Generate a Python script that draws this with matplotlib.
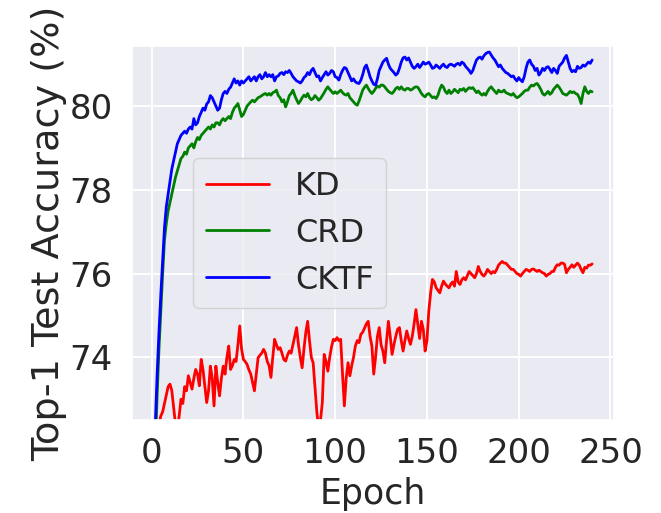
import matplotlib
matplotlib.use("Agg")
import matplotlib.pyplot as plt
import seaborn as sns
import numpy as np

epochs = list(range(1, 241))

kd = [70.5, 71.2, 71.8, 72.4, 72.6, 72.7, 72.9, 73.1, 73.3, 73.36,
      73.2, 72.8, 72.4, 72.3, 72.6, 73.0, 72.9, 73.3, 73.2, 73.56,
      73.4, 73.24, 73.5, 73.71, 73.6, 73.32, 73.95, 73.7, 73.3, 72.92,
      73.2, 73.79, 73.5, 72.84, 73.79, 73.4, 73.08, 73.5, 73.79, 73.6,
      74.0, 74.27, 73.71, 73.8, 73.95, 73.9, 74.3, 74.75, 74.2, 73.95,
      73.9, 73.83, 73.7, 73.6, 73.4, 73.2, 73.6, 73.99, 74.05, 74.1,
      74.19, 74.1, 73.9, 73.8, 73.52, 74.0, 74.43, 74.3, 74.19, 74.23,
      74.1, 73.95, 73.91, 74.05, 74.15, 74.1, 74.3, 74.5, 74.71, 74.3,
      74.0, 73.75, 74.2, 74.6, 74.86, 74.4, 74.0, 73.87, 73.3, 72.7,
      72.3, 72.5, 72.92, 74.07, 73.9, 73.67, 74.0, 74.25, 74.43, 74.4,
      74.47, 74.4, 74.43, 73.6, 72.84, 73.5, 73.87, 73.56, 73.8, 74.0,
      74.27, 74.4, 74.35, 74.55, 74.6, 74.7, 74.8, 74.86, 74.5, 74.27,
      73.6, 74.0, 74.5, 74.71, 74.3, 74.15, 73.87, 74.4, 74.86, 74.5,
      74.07, 74.3, 74.5, 74.67, 74.71, 74.4, 74.15, 74.4, 74.63, 74.45,
      74.31, 74.5, 74.8, 75.14, 74.8, 74.45, 74.86, 74.67, 74.15, 74.4,
      75.1, 75.54, 75.86, 75.8, 75.66, 75.6, 75.54, 75.7, 75.82, 75.75,
      75.7, 75.66, 75.75, 75.8, 75.7, 76.05, 75.8, 75.74, 75.85, 75.9,
      75.85, 75.95, 76.05, 76.0, 75.95, 75.9, 76.0, 76.17, 76.05, 75.98,
      75.94, 76.0, 76.1, 76.05, 76.0, 76.05, 76.02, 76.1, 76.2, 76.25,
      76.29, 76.25, 76.25, 76.2, 76.15, 76.1, 76.1, 76.05, 76.0, 75.98,
      75.94, 76.0, 76.05, 76.1, 76.08, 76.05, 76.1, 76.11, 76.08, 76.05,
      76.08, 76.05, 76.02, 76.0, 75.94, 75.98, 76.0, 76.05, 76.05, 76.15,
      76.21, 76.2, 76.25, 76.25, 76.22, 76.02, 76.1, 76.15, 76.21, 76.15,
      76.2, 76.25, 76.2, 76.1, 76.02, 76.15, 76.13, 76.2, 76.2, 76.23]

crd = [69.8, 71.8, 73.1, 74.2, 75.1, 76.0, 76.8, 77.2, 77.5, 77.7,
       77.9, 78.1, 78.3, 78.45, 78.6, 78.75, 78.8, 78.9, 78.85, 79.0,
       79.05, 79.1, 79.0, 79.15, 79.25, 79.2, 79.3, 79.35, 79.4, 79.45,
       79.5, 79.45, 79.55, 79.5, 79.6, 79.6, 79.55, 79.65, 79.7, 79.65,
       79.7, 79.75, 79.7, 79.85, 79.95, 80.0, 80.06, 79.9, 79.75, 79.8,
       79.9, 80.0, 80.05, 80.1, 80.14, 80.1, 80.15, 80.2, 80.22, 80.25,
       80.28, 80.3, 80.26, 80.3, 80.26, 80.32, 80.34, 80.38, 80.25, 80.2,
       80.1, 80.15, 79.98, 80.1, 80.25, 80.3, 80.38, 80.25, 80.15, 80.06,
       80.12, 80.2, 80.26, 80.22, 80.3, 80.2, 80.15, 80.18, 80.25, 80.2,
       80.14, 80.18, 80.25, 80.32, 80.4, 80.46, 80.4, 80.35, 80.3, 80.34,
       80.3, 80.34, 80.38, 80.32, 80.28, 80.26, 80.3, 80.2, 80.15, 80.1,
       80.05, 80.02, 80.12, 80.25, 80.38, 80.45, 80.5, 80.42, 80.35, 80.3,
       80.35, 80.42, 80.48, 80.45, 80.5, 80.5, 80.46, 80.4, 80.35, 80.32,
       80.3, 80.35, 80.42, 80.45, 80.4, 80.46, 80.4, 80.38, 80.42, 80.42,
       80.38, 80.4, 80.44, 80.46, 80.45, 80.38, 80.3, 80.25, 80.22, 80.28,
       80.3, 80.25, 80.2, 80.22, 80.18, 80.26, 80.4, 80.5, 80.45, 80.35,
       80.3, 80.38, 80.3, 80.34, 80.4, 80.36, 80.32, 80.4, 80.38, 80.42,
       80.35, 80.4, 80.44, 80.42, 80.44, 80.38, 80.32, 80.36, 80.3, 80.26,
       80.3, 80.26, 80.35, 80.42, 80.46, 80.4, 80.35, 80.3, 80.38, 80.34,
       80.34, 80.38, 80.32, 80.3, 80.28, 80.26, 80.3, 80.24, 80.2, 80.22,
       80.26, 80.3, 80.35, 80.38, 80.38, 80.45, 80.5, 80.48, 80.52, 80.54,
       80.48, 80.4, 80.3, 80.26, 80.3, 80.35, 80.28, 80.32, 80.4, 80.45,
       80.5, 80.45, 80.38, 80.3, 80.28, 80.26, 80.3, 80.35, 80.32, 80.34,
       80.3, 80.28, 80.2, 80.06, 80.3, 80.46, 80.35, 80.3, 80.36, 80.34]

cktf = [70.5, 72.4, 73.6, 74.6, 75.5, 76.3, 77.1, 77.6, 77.9, 78.2,
        78.5, 78.7, 78.9, 79.1, 79.2, 79.3, 79.35, 79.4, 79.35, 79.45,
        79.5, 79.45, 79.7, 79.55, 79.6, 79.75, 79.85, 79.95, 79.9, 80.05,
        80.1, 80.25, 80.2, 80.1, 80.0, 79.9, 79.95, 80.15, 80.3, 80.35,
        80.3, 80.4, 80.45, 80.55, 80.65, 80.55, 80.6, 80.5, 80.6, 80.55,
        80.6, 80.65, 80.7, 80.6, 80.65, 80.7, 80.6, 80.7, 80.75, 80.65,
        80.7, 80.8, 80.7, 80.75, 80.7, 80.75, 80.6, 80.7, 80.72, 80.78,
        80.8, 80.75, 80.82, 80.8, 80.85, 80.78, 80.7, 80.65, 80.6, 80.58,
        80.55, 80.6, 80.68, 80.72, 80.8, 80.75, 80.85, 80.9, 80.8, 80.7,
        80.72, 80.6, 80.68, 80.75, 80.82, 80.74, 80.78, 80.85, 80.82, 80.7,
        80.68, 80.62, 80.75, 80.85, 80.92, 80.9, 80.8, 80.7, 80.6, 80.65,
        80.58, 80.55, 80.54, 80.62, 80.75, 80.92, 80.98, 80.85, 80.7, 80.6,
        80.52, 80.5, 80.65, 80.85, 80.95, 81.05, 81.1, 81.14, 81.0, 80.9,
        80.85, 80.8, 80.74, 80.78, 80.9, 81.05, 81.15, 81.17, 81.1, 81.15,
        81.05, 80.95, 80.9, 80.94, 81.0, 80.92, 80.98, 81.05, 81.0, 81.02,
        81.05, 80.98, 80.9, 80.92, 80.98, 80.94, 80.9, 80.96, 81.0, 80.94,
        80.92, 80.98, 81.0, 80.98, 80.95, 81.0, 81.02, 80.98, 81.05, 81.02,
        80.95, 80.9, 80.85, 80.78, 80.85, 80.98, 81.1, 81.15, 81.17, 81.12,
        81.2, 81.25, 81.28, 81.29, 81.22, 81.15, 81.1, 81.02, 80.94, 80.98,
        80.9, 80.85, 80.8, 80.78, 80.74, 80.7, 80.72, 80.65, 80.6, 80.68,
        80.62, 80.58, 80.7, 80.9, 81.05, 81.1, 81.0, 80.95, 80.85, 80.9,
        80.74, 80.8, 80.9, 80.85, 80.92, 80.94, 80.88, 80.8, 80.9, 80.85,
        80.78, 80.95, 81.0, 81.05, 81.15, 81.21, 81.05, 80.9, 80.82, 80.85,
        80.82, 80.95, 80.9, 80.92, 80.98, 80.95, 81.0, 81.05, 81.02, 81.1]

sns.set_theme(style="darkgrid")
plt.rcParams["font.family"] = ["DejaVu Sans"]
plt.rcParams["grid.linewidth"] = 1.4

fig = plt.figure(figsize=(6.61, 5.13), dpi=100)
ax = fig.add_axes([0.199, 0.181, 0.730, 0.729])

ax.plot(epochs, kd, color="red", linewidth=2.0, label="KD")
ax.plot(epochs, crd, color="green", linewidth=2.0, label="CRD")
ax.plot(epochs, cktf, color="blue", linewidth=2.0, label="CKTF")

ax.set_ylim(72.5, 81.43)
ax.set_yticks([74, 76, 78, 80])
ax.set_xticks([0, 50, 100, 150, 200, 250])
ax.tick_params(axis="y", labelsize=24.5, pad=7.5)
ax.tick_params(axis="x", labelsize=24.5, pad=6)
ax.set_xlabel("Epoch", fontsize=25, labelpad=5)
ax.set_ylabel("Top-1 Test Accuracy (%)", fontsize=27.5, labelpad=2)

ax.legend(loc="center left", bbox_to_anchor=(0.127, 0.5), borderaxespad=0,
          fontsize=23)

fig.savefig("out.png", dpi=100)
